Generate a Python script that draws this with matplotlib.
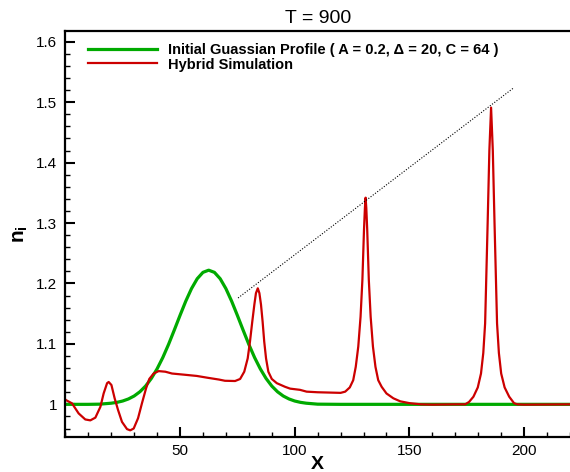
import numpy as np
import matplotlib
matplotlib.use('Agg')
import matplotlib.pyplot as plt
from matplotlib.ticker import MultipleLocator

plt.rcParams['font.family'] = ['Liberation Sans', 'DejaVu Sans']
plt.rcParams['mathtext.fontset'] = 'custom'
plt.rcParams['mathtext.rm'] = 'Liberation Sans'
plt.rcParams['mathtext.bf'] = 'Liberation Sans:bold'

# initial gaussian profile
gauss_x = [0, 10, 15, 20, 22.5, 25, 27.5, 30, 32.5, 35, 37.5, 40, 42.5, 45,
           47.5, 50, 52.5, 55, 57.5, 60, 62.5, 65, 67.5, 70, 72.5, 75, 77.5,
           80, 82.5, 85, 87.5, 90, 92.5, 95, 97.5, 100, 102.5, 105, 110,
           120, 220]
gauss_n = [1.0, 1.0, 1.0003, 1.0019, 1.0033, 1.0055, 1.0089, 1.0138, 1.0208,
           1.0303, 1.0429, 1.0587, 1.0775, 1.0992, 1.1229, 1.1472, 1.1707,
           1.1915, 1.2079, 1.2184, 1.222, 1.2184, 1.2079, 1.1915, 1.1707,
           1.1472, 1.1229, 1.0992, 1.0775, 1.0587, 1.0429, 1.0303, 1.0208,
           1.0138, 1.0089, 1.0055, 1.0033, 1.0019, 1.0003, 1.0, 1.0]

# hybrid simulation at T = 900
sim_x = [0, 0.3, 2.9, 5.8, 8.7, 10.9, 13.1, 15.3, 16.7, 18.2, 18.9, 20.1,
         21.5, 23.0, 24.7, 26.9, 28.3, 29.8, 31.7, 33.4, 35.2, 36.6, 38.5,
         40.7, 43.6, 46.5, 52, 57.3, 62, 67, 69.6, 74.0, 76.2, 78.0, 79.5,
         80.5, 81.5, 82.4, 83.1, 83.9, 84.6, 85.3, 86.0, 86.7, 87.5, 88.5,
         90.0, 92.2, 95.8, 98, 102.3, 105.2, 110, 115, 120, 122, 124, 125.5,
         126.6, 127.7, 128.7, 129.5, 130.2, 130.6, 130.9, 131.2, 131.6,
         132.3, 133.1, 134.1, 135.2, 136.4, 137.9, 140, 143, 146, 150, 155,
         160, 170, 174.3, 176, 177.9, 179.8, 181.2, 182.2, 183.0, 184.1,
         184.85, 185.6, 186.35, 187.1, 188.2, 189.0, 190.0, 191.5, 193.5,
         195.6, 197, 200, 220]
sim_n = [1.008, 1.007, 1.0017, 0.985, 0.975, 0.9735, 0.978, 0.996, 1.018,
         1.035, 1.037, 1.032, 1.010, 0.9905, 0.971, 0.959, 0.957, 0.960,
         0.977, 1.0017, 1.0265, 1.042, 1.051, 1.055, 1.054, 1.051, 1.049,
         1.047, 1.044, 1.041, 1.039, 1.0386, 1.042, 1.054, 1.076, 1.104,
         1.137, 1.165, 1.184, 1.192, 1.184, 1.165, 1.137, 1.104, 1.076,
         1.054, 1.042, 1.035, 1.029, 1.026, 1.024, 1.021, 1.020, 1.0195,
         1.019, 1.021, 1.028, 1.040, 1.062, 1.0955, 1.145, 1.206, 1.289,
         1.325, 1.342, 1.325, 1.289, 1.206, 1.145, 1.0955, 1.062, 1.040,
         1.029, 1.018, 1.010, 1.005, 1.002, 1.0, 0.9995, 1.0, 1.0, 1.004,
         1.0126, 1.028, 1.051, 1.085, 1.134, 1.300, 1.42, 1.491, 1.42,
         1.300, 1.134, 1.085, 1.051, 1.028, 1.0126, 1.002, 1.0, 0.9995, 1.0]

# dotted guide through the peaks
guide_x = [75.3, 195.2]
guide_n = [1.176, 1.523]

fig = plt.figure(figsize=(5.7, 4.72), dpi=100)
ax = fig.add_axes([0.1146, 0.0742, 0.8854, 0.8591])

ax.plot(gauss_x, gauss_n, color='#00aa00', lw=2.3,
        label='Initial Guassian Profile ( A = 0.2, \u0394 = 20, C = 64 )')
ax.plot(sim_x, sim_n, color='#cc0000', lw=1.6, label='Hybrid Simulation')
ax.plot(guide_x, guide_n, color='black', lw=0.8, ls=(0, (1, 1.5)))

ax.set_xlim(0, 220)
ax.set_ylim(0.946, 1.617)
ax.xaxis.set_minor_locator(MultipleLocator(10))
ax.yaxis.set_minor_locator(MultipleLocator(0.02))
ax.set_yticks([1.0, 1.1, 1.2, 1.3, 1.4, 1.5, 1.6])
ax.set_yticklabels(['1', '1.1', '1.2', '1.3', '1.4', '1.5', '1.6'])
ax.set_xticks([50, 100, 150, 200])

ax.tick_params(which='both', direction='in', top=False, right=False)
ax.tick_params(which='major', length=7.5, width=1.5, labelsize=11, pad=5)
ax.tick_params(which='minor', length=3.6, width=1.0)
ax.tick_params(axis='y', which='major', pad=6)
for side in ['left', 'bottom', 'top']:
    ax.spines[side].set_linewidth(1.6)
ax.spines['right'].set_visible(False)

ax.set_title('T = 900', fontsize=14, pad=6)
ax.set_xlabel('X', fontsize=14, fontweight='bold', labelpad=-1.5)
ax.set_ylabel(r'$\mathbf{n}_{\mathbf{i}}$', fontsize=15, labelpad=4)

ax.legend(loc='upper left', bbox_to_anchor=(0.045, 0.972), frameon=False,
          prop={'weight': 'bold', 'size': 10.5}, handlelength=4.7,
          handletextpad=0.75, labelspacing=0.05, borderpad=0,
          borderaxespad=0)

fig.savefig('out.png', dpi=100)
